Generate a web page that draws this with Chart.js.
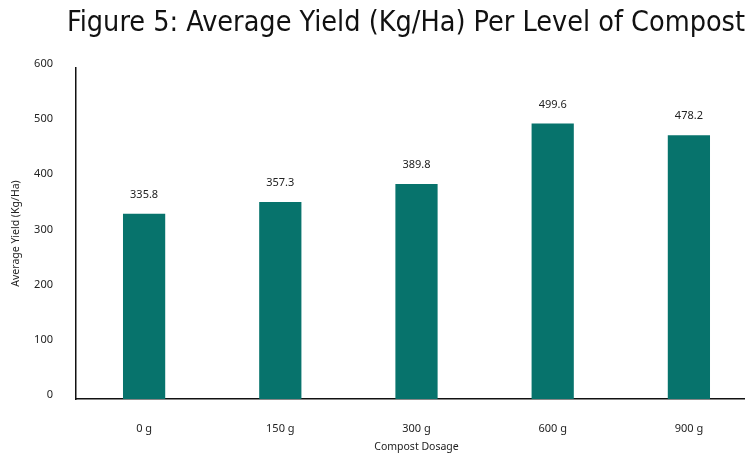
<!DOCTYPE html>
<html>
<head>
<meta charset="utf-8">
<script src="https://cdn.jsdelivr.net/npm/chart.js@4"></script>
<style>
  html, body { margin: 0; padding: 0; background: #fff; overflow: hidden; }
  #wrap { width: 745px; height: 456px; overflow: hidden; }
</style>
</head>
<body>
<div id="wrap"><canvas id="cvYield" width="757" height="456"></canvas></div>
<script>
// compost dosage levels and mean yield
var dosages = ["0 g", "150 g", "300 g", "600 g", "900 g"];
var avgYield = [335.8, 357.3, 389.8, 499.6, 478.2];
var yTicks = [0, 100, 200, 300, 400, 500, 600];
var chartTitle = "Figure 5: Average Yield (Kg/Ha) Per Level of Compost";

var tickFont = { family: "'Noto Sans', 'Open Sans', sans-serif", size: 11 };

// write each bar's value just above it
var valueLabels = {
    id: "valueLabels",
    afterDatasetsDraw: function (chart) {
        var ctx = chart.ctx;
        var meta = chart.getDatasetMeta(0);
        ctx.save();
        ctx.font = "11px 'Noto Sans', 'Open Sans', sans-serif";
        ctx.fillStyle = "#222";
        ctx.textAlign = "center";
        ctx.textBaseline = "middle";
        meta.data.forEach(function (bar, i) {
            ctx.fillText(avgYield[i].toFixed(1), bar.x, bar.y - 19);
        });
        ctx.restore();
    }
};

// heading sits in the top padding, right edge just inside the visible page
var headline = {
    id: "headline",
    afterDraw: function (chart) {
        var ctx = chart.ctx;
        ctx.save();
        ctx.font = "28.5px 'Liberation Sans Narrow', 'DejaVu Sans Condensed', sans-serif";
        ctx.fillStyle = "#111";
        ctx.textAlign = "right";
        ctx.textBaseline = "alphabetic";
        ctx.fillText(chartTitle, chart.width - 12, 31);
        ctx.restore();
    }
};

var ctx = document.getElementById("cvYield").getContext("2d");
new Chart(ctx, {
    type: "bar",
    data: {
        labels: dosages,
        datasets: [{
            data: avgYield,
            backgroundColor: "#07736c",
            borderWidth: 0,
            barPercentage: 0.31,
            categoryPercentage: 1
        }]
    },
    options: {
        responsive: false,
        animation: false,
        layout: { padding: { top: 68, left: 0, right: 0, bottom: 0 } },
        plugins: {
            legend: { display: false },
            tooltip: { enabled: false },
            title: { display: false }
        },
        scales: {
            x: {
                grid: { display: false, drawTicks: false },
                border: { display: true, color: "#111", width: 1.5 },
                ticks: { color: "#222", font: tickFont, padding: 23 },
                title: {
                    display: true,
                    text: "Compost Dosage",
                    color: "#222",
                    font: { family: tickFont.family, size: 10.5 },
                    padding: { top: 4, bottom: 3 }
                },
                afterFit: function (scale) { scale.height = 57; }
            },
            y: {
                min: 0,
                max: 600,
                afterBuildTicks: function (scale) {
                    scale.ticks = yTicks.map(function (v) { return { value: v }; });
                },
                grid: { display: false, drawTicks: false },
                border: { display: true, color: "#111", width: 1.5 },
                ticks: { color: "#222", font: tickFont, padding: 23, labelOffset: -4 },
                title: {
                    display: true,
                    text: "Average Yield (Kg/Ha)",
                    color: "#222",
                    font: { family: tickFont.family, size: 10.5 },
                    padding: { top: 10, bottom: 4 }
                },
                afterFit: function (scale) { scale.width = 76; }
            }
        }
    },
    plugins: [valueLabels, headline]
});
</script>
</body>
</html>
